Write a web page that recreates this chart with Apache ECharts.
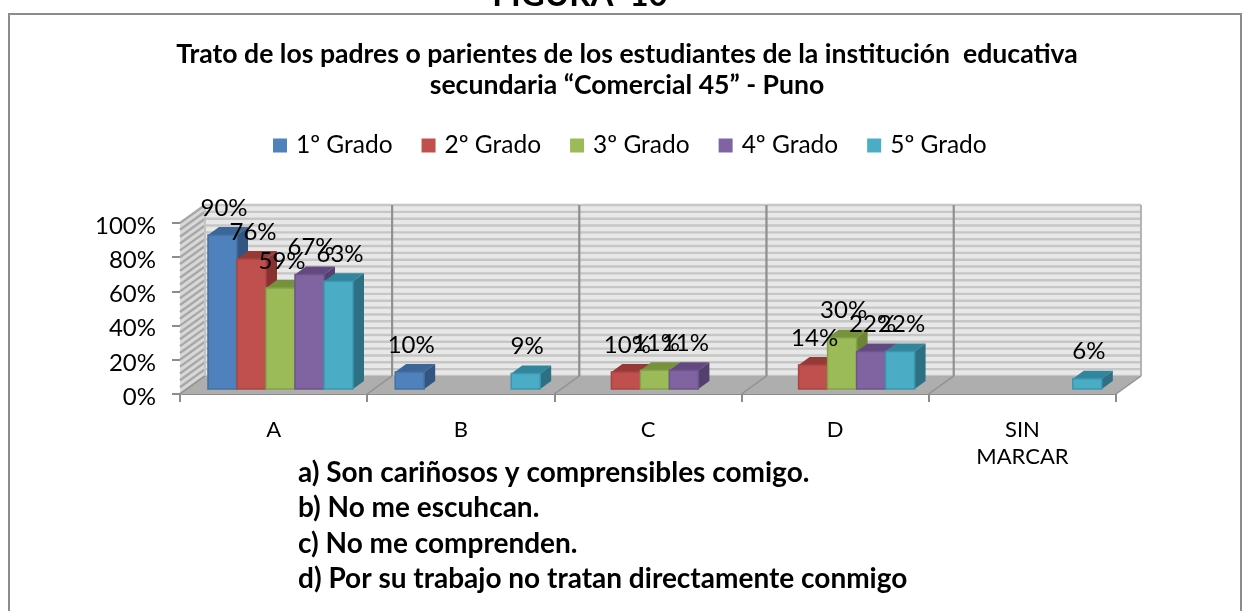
<!DOCTYPE html>
<html><head><meta charset="utf-8">
<style>html,body{margin:0;padding:0;background:#fff}#c{width:1243px;height:611px}</style>
<script src="https://cdn.jsdelivr.net/npm/echarts@6/dist/echarts.min.js"></script>
</head><body><div id="c"></div>
<script>
const categories = ['A','B','C','D','SIN\nMARCAR'];
const grado1 = [90,10,null,null,null];
const grado2 = [76,null,10,14,null];
const grado3 = [59,null,11,30,null];
const grado4 = [67,null,11,22,null];
const grado5 = [63,9,null,22,6];
const seriesNames = ['1º Grado','2º Grado','3º Grado','4º Grado','5º Grado'];
const seriesValues = [grado1,grado2,grado3,grado4,grado5];
const faceColors = ['#4f81bd','#c0504d','#9bbb59','#8064a2','#4bacc6'];
const topColors = ['#3c6699','#953a37','#76923c','#624a80','#31859c'];
const sideColors = ['#325582','#873230','#6b8535','#54406e','#2e7083'];
const edgeColors = ['#41719f','#a94441','#84a349','#6d548c','#3b96ae'];
const wallLineValues = [0,4,8,12,16,20,24,28,32,36,40,44,48,52,56,60,64,68,72,76,80,84,88,92,96,100];
const titleText = 'Trato de los padres o parientes de los estudiantes de la institución  educativa\nsecundaria “Comercial 45” - Puno';
const figureText = 'FIGURA  10';
const notes = ['a) Son cariñosos y comprensibles comigo.','b) No me escuhcan.','c) No me comprenden.','d) Por su trabajo no tratan directamente conmigo'];

const FONT = 'Lato';
const WALL_DX = 25, WALL_DY = 18;
const BAR_W = 29, BAR_LEFT = 28, BAR_UP = 5, BAR_DX = 11, BAR_DY = 8;

function poly(points, fill, stroke, lw){
  return {type:'polygon', shape:{points}, style:{fill, stroke:stroke||null, lineWidth:lw||0}, silent:true};
}
function line(x1,y1,x2,y2,stroke,lw){
  return {type:'line', shape:{x1,y1,x2,y2}, style:{stroke, lineWidth:lw, fill:null}, silent:true};
}
function renderPanel(params, api){
  const i = api.value(0);
  const band = api.size([1,0])[0];
  const c0 = api.coord([i,0]), c100 = api.coord([i,100]);
  const xl = c0[0]-band/2, xr = c0[0]+band/2, y0 = c0[1], y1 = c100[1];
  const kids = [];
  kids.push(poly([[xl+WALL_DX,y1-WALL_DY],[xr+WALL_DX,y1-WALL_DY],[xr+WALL_DX,y0-WALL_DY],[xl+WALL_DX,y0-WALL_DY]],'#e8e8e8'));
  wallLineValues.forEach(v=>{
    const y = api.coord([i,v])[1]-WALL_DY;
    kids.push(line(xl+WALL_DX,y,xr+WALL_DX,y,'#c6c6c6',2.4));
    if(i===0) kids.push(line(xl,y+WALL_DY,xl+WALL_DX,y,'#a8a8a8',2.4));
  });
  if(i===0){
    kids.unshift(poly([[xl,y1],[xl+WALL_DX,y1-WALL_DY],[xl+WALL_DX,y0-WALL_DY],[xl,y0]],'#d8d8d8'));
    kids.push(line(xl+WALL_DX,y1-WALL_DY,xl+WALL_DX,y0-WALL_DY,'#c4c4c4',2));
  } else {
    kids.push(line(xl+WALL_DX,y1-WALL_DY,xl+WALL_DX,y0-WALL_DY,'#8f8f8f',2));
  }
  kids.push(line(xr+WALL_DX,y1-WALL_DY,xr+WALL_DX,y0-WALL_DY,i===categories.length-1?'#b4b4b4':'#8f8f8f',2));
  kids.push(poly([[xl,y0],[xr,y0],[xr+WALL_DX,y0-WALL_DY],[xl+WALL_DX,y0-WALL_DY]],'#aeaeae'));
  kids.push(line(xr,y0,xr+WALL_DX,y0-WALL_DY,'#929292',1.5));
  kids.push(line(xl,y0,xl+WALL_DX,y0-WALL_DY,'#929292',1.5));
  return {type:'group', children:kids};
}
function makeBarRenderer(s){
  return function(params, api){
    const v = api.value(1);
    if(v==null || isNaN(v)) return null;
    const i = api.value(0);
    const band = api.size([1,0])[0];
    const c0 = api.coord([i,0]), cv = api.coord([i,v]);
    const x = c0[0]-band/2+BAR_LEFT+s*BAR_W, yb = c0[1]-BAR_UP, yt = cv[1]-BAR_UP;
    const X = x+BAR_W;
    return {type:'group', children:[
      poly([[x,yt],[X,yt],[X+BAR_DX,yt-BAR_DY],[x+BAR_DX,yt-BAR_DY]],topColors[s]),
      poly([[X,yt],[X+BAR_DX,yt-BAR_DY],[X+BAR_DX,yb-BAR_DY],[X,yb]],sideColors[s]),
      poly([[x,yt],[X,yt],[X,yb],[x,yb]],faceColors[s],edgeColors[s],1.5),
      {type:'text', z2:100, silent:true, style:{text:v+'%', x:x+BAR_W/2+1.5, y:yt-27, align:'center', verticalAlign:'middle', font:'24px '+FONT, fill:'#000'}}
    ]};
  };
}
const chart = echarts.init(document.getElementById('c'),null,{renderer:'canvas'});
chart.setOption({
  backgroundColor:'#fff',
  animation:false,
  title:[
    {text:figureText,left:575,textAlign:'center',top:-26,textStyle:{fontFamily:FONT,fontWeight:'bold',fontSize:33,color:'#000'}},
    {text:titleText,left:622,textAlign:'center',top:34,textStyle:{fontFamily:FONT,fontWeight:'bold',fontSize:26.6,lineHeight:31,color:'#000'}},
    {text:notes.join('\n'),left:293,top:450,textStyle:{fontFamily:FONT,fontWeight:'bold',fontSize:28,lineHeight:35.5,color:'#000'}}
  ],
  graphic:[{type:'rect',z:-1,silent:true,shape:{x:9,y:14,width:1232,height:700},style:{fill:'#fff',stroke:'#8c8c8c',lineWidth:2}}],
  legend:{data:seriesNames,left:268,top:128,icon:'rect',itemWidth:14,itemHeight:14,itemGap:29,textStyle:{fontFamily:FONT,fontSize:24.5,color:'#000',padding:[0,0,0,4]}},
  grid:{left:180,right:127,top:223,bottom:217},
  xAxis:{type:'category',data:categories,axisTick:{show:true,length:8,lineStyle:{color:'#8c8c8c',width:2}},axisLine:{lineStyle:{color:'#8c8c8c',width:2}},axisLabel:{fontFamily:FONT,fontSize:22,color:'#000',margin:22,lineHeight:27}},
  yAxis:{type:'value',min:0,max:100,interval:20,splitLine:{show:false},axisLine:{show:true,lineStyle:{color:'#a8a8a8',width:1}},axisTick:{show:true,length:8,lineStyle:{color:'#8c8c8c',width:2}},axisLabel:{formatter:'{value}%',fontFamily:FONT,fontSize:24,color:'#000',margin:24,verticalAlign:'top',lineHeight:6}},
  series:[
    {type:'custom',name:'walls',silent:true,z:1,clip:false,renderItem:renderPanel,data:categories.map(()=>0),encode:{x:0,y:1}}
  ].concat(seriesNames.map((n,s)=>({
    type:'custom',name:n,z:2,clip:false,renderItem:makeBarRenderer(s),itemStyle:{color:faceColors[s]},data:seriesValues[s],encode:{x:0,y:1}
  })))
});
</script></body></html>
